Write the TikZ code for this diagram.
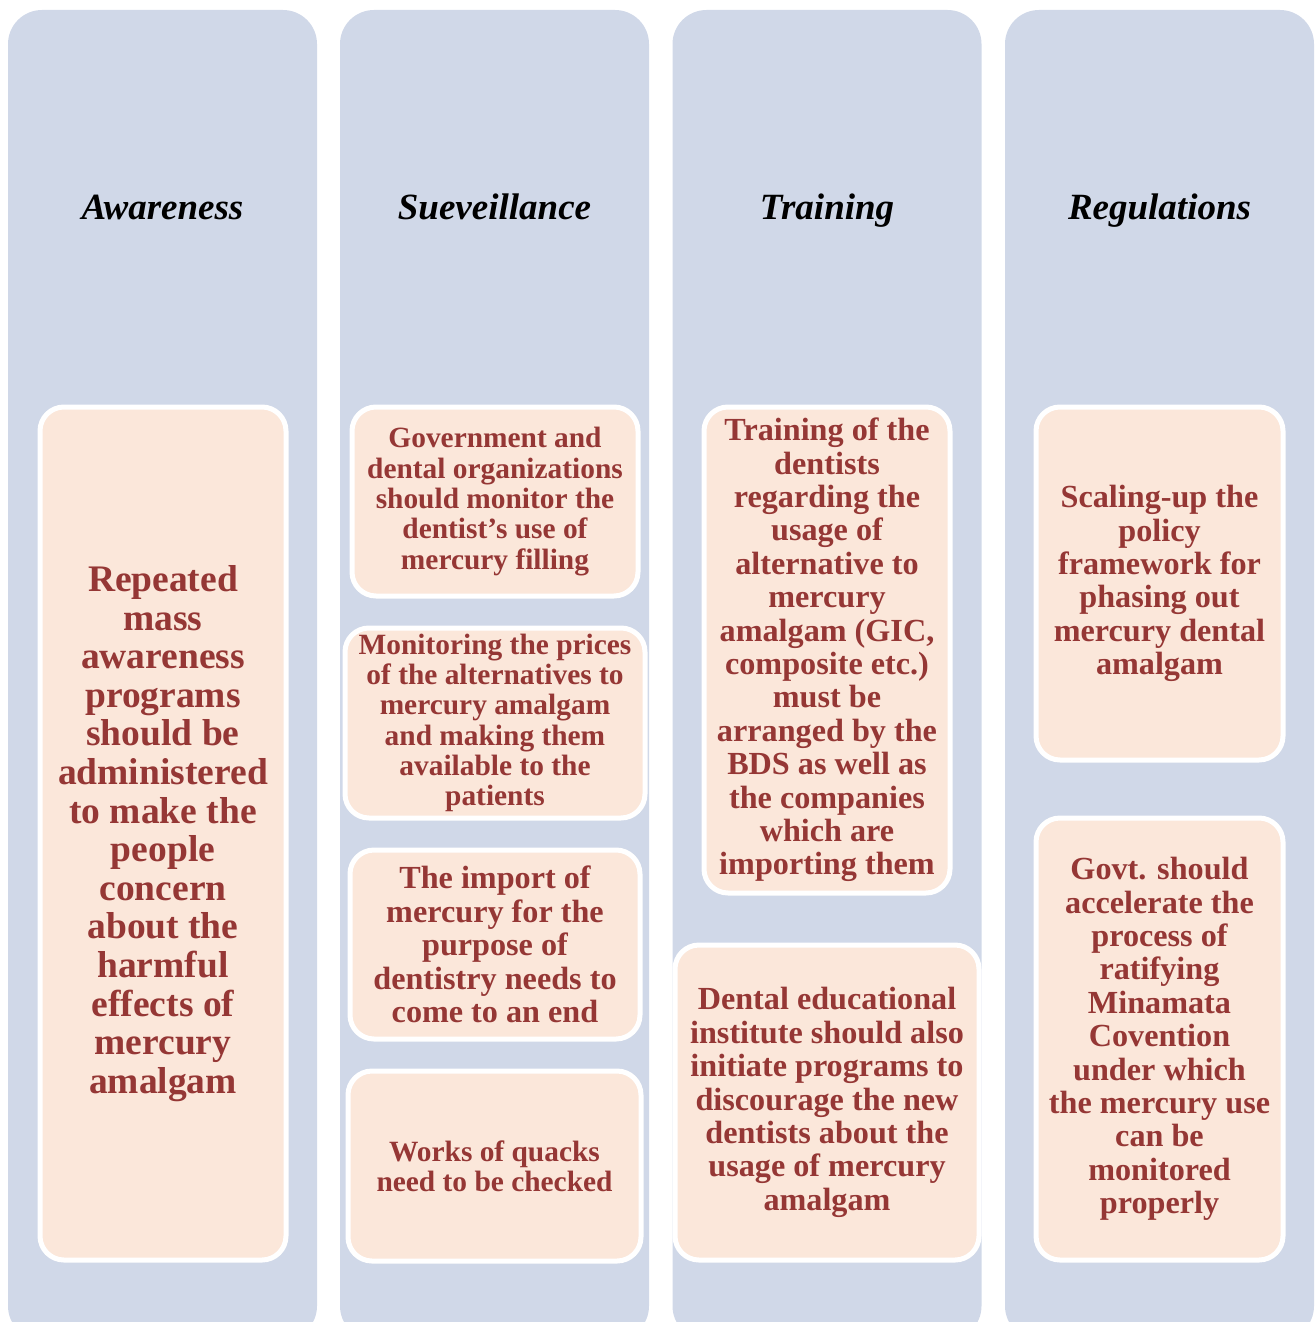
\documentclass[tikz,border=0pt]{standalone}
\usepackage{fontspec}
\setmainfont{Liberation Serif}
\definecolor{colfill}{HTML}{D0D8E8}
\definecolor{boxfill}{HTML}{FBE7DA}
\definecolor{boxtext}{HTML}{953735}
\tikzset{
  column/.style={fill=colfill, rounded corners=34pt, minimum width=309pt, minimum height=1330pt, inner sep=0pt},
  heading/.style={font=\fontsize{37}{40}\selectfont\bfseries\itshape, text=black, anchor=base},
  idea/.style={fill=boxfill, draw=white, line width=5pt, rounded corners=24pt, align=center, text=boxtext, inner sep=0pt},
  big/.style={font=\fontsize{37.5}{38.6}\selectfont\bfseries},
  mid/.style={font=\fontsize{32.2}{33.4}\selectfont\bfseries},
  small/.style={font=\fontsize{29.4}{30.3}\selectfont\bfseries}
}
\begin{document}
\begin{tikzpicture}[x=1pt, y=-1pt]
  \useasboundingbox (0,0) rectangle (1314,1322);
  \clip (0,0) rectangle (1314,1322);

  % the four columns
  \node[column] (colA) at (162.5,675) {};
  \node[column] (colS) at (494.5,675) {};
  \node[column] (colT) at (827,675) {};
  \node[column] (colR) at (1159.5,675) {};

  \node[heading] (hA) at (162.5,219) {Awareness};
  \node[heading] (hS) at (494.5,219) {Sueveillance};
  \node[heading] (hT) at (827,219) {Training};
  \node[heading] (hR) at (1159.5,219) {Regulations};

  % awareness
  \node[idea, big, minimum width=246pt, minimum height=853pt] (a1) at (163,833.5)
    {Repeated\\mass\\awareness\\programs\\should be\\administered\\to make the\\people\\concern\\about the\\harmful\\effects of\\mercury\\amalgam};

  % surveillance
  \node[idea, small, minimum width=286pt, minimum height=189pt] (s1) at (495,501.5)
    {Government and\\dental organizations\\should monitor the\\dentist’s use of\\mercury filling};
  \node[idea, small, minimum width=300pt, minimum height=190pt] (s2) at (495,723)
    {Monitoring the prices\\of the alternatives to\\mercury amalgam\\and making them\\available to the\\patients};
  \node[idea, mid, minimum width=290pt, minimum height=189pt] (s3) at (495,944.5)
    {The import of\\mercury for the\\purpose of\\dentistry needs to\\come to an end};
  \node[idea, small, minimum width=293pt, minimum height=190pt] (s4) at (494.5,1166)
    {Works of quacks\\need to be checked};

  % training
  \node[idea, mid, minimum width=246pt, minimum height=486pt] (t1) at (827,650)
    {Training of the\\dentists\\regarding the\\usage of\\alternative to\\mercury\\amalgam (GIC,\\composite etc.)\\must be\\arranged by the\\BDS as well as\\the companies\\which are\\importing them};
  \node[idea, mid, minimum width=304pt, minimum height=315pt] (t2) at (827,1102.5)
    {Dental educational\\institute should also\\initiate programs to\\discourage the new\\dentists about the\\usage of mercury\\amalgam};

  % regulations
  \node[idea, mid, minimum width=247pt, minimum height=353pt] (r1) at (1159.5,583.5)
    {Scaling-up the\\policy\\framework for\\phasing out\\mercury dental\\amalgam};
  \node[idea, mid, minimum width=247pt, minimum height=442pt] (r2) at (1159.5,1039)
    {Govt. should\\accelerate the\\process of\\ratifying\\Minamata\\Covention\\under which\\the mercury use\\can be\\monitored\\properly};
\end{tikzpicture}
\end{document}
